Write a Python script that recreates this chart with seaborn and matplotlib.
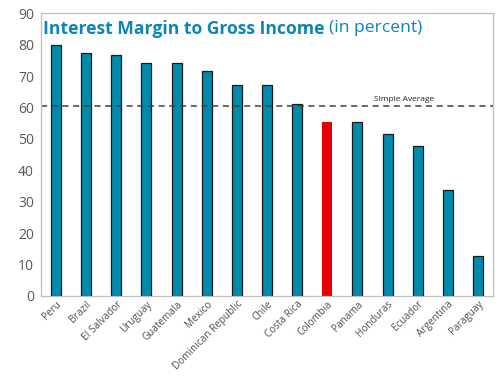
import pandas as pd
import numpy as np
import matplotlib
matplotlib.use('Agg')
import matplotlib.pyplot as plt
import seaborn as sns
from matplotlib.ticker import FixedLocator
from matplotlib.transforms import offset_copy

countries = ['Peru', 'Brazil', 'El Salvador', 'Uruguay', 'Guatemala', 'Mexico',
             'Dominican Republic', 'Chile', 'Costa Rica', 'Colombia', 'Panama',
             'Honduras', 'Ecuador', 'Argentina', 'Paraguay']
values = [80.0, 77.4, 76.7, 74.2, 74.2, 71.6, 67.2, 67.1, 61.2, 55.4, 55.3,
          51.4, 47.7, 33.8, 12.8]
simple_average = 60.4
highlight = 'Colombia'

BLUE = '#008BAD'
RED = '#E60000'

df = pd.DataFrame({'Country': countries, 'Value': values})
colors = {c: (RED if c == highlight else BLUE) for c in countries}

sns.set_style('white')
plt.rcParams['font.family'] = ['Open Sans', 'DejaVu Sans']

fig = plt.figure(figsize=(5, 3.77), dpi=100)
ax = fig.add_axes([0.082, 0.215, 0.904, 0.75])

sns.barplot(data=df, x='Country', y='Value', hue='Country', palette=colors,
            saturation=1, width=0.33, legend=False, ax=ax,
            edgecolor='#1a1a1a', linewidth=0.9)

# highlighted bar has no outline
for patch, c in zip(ax.patches, countries):
    if c == highlight:
        patch.set_linewidth(0)

ax.axhline(simple_average, color='#404040', linestyle=(0, (4, 3)), linewidth=1.1)
ax.text(11.55, simple_average + 1.0, 'Simple Average', fontsize=6,
        color='#222222', ha='center', va='bottom')

ax.set_ylim(0, 90)
ax.set_xlim(-0.5, 14.5)
ax.set_yticks(range(0, 91, 10))
ax.set_xlabel('')
ax.set_ylabel('')

for s in ['top', 'right', 'bottom', 'left']:
    ax.spines[s].set_color('#BFBFBF')
    ax.spines[s].set_linewidth(0.9)

ax.tick_params(axis='y', length=0, labelsize=10, labelcolor='#595959', pad=5)
ax.tick_params(axis='x', length=0, labelsize=7.2, labelcolor='#505050', pad=2)
ax.xaxis.set_minor_locator(FixedLocator(np.arange(0.5, 14, 1)))
ax.tick_params(axis='x', which='minor', direction='in', length=3,
               color='#BFBFBF', width=0.8)
plt.setp(ax.get_xticklabels(), rotation=45, ha='right', rotation_mode='anchor')

# title inside the plot area
t1 = ax.text(0.004, 0.975, 'Interest Margin to Gross Income', transform=ax.transAxes,
             fontsize=12.6, fontweight='bold', color='#0A87B4', va='top', ha='left')
fig.canvas.draw()
bb = t1.get_window_extent()
x_end = ax.transAxes.inverted().transform((bb.x1, bb.y1))[0]
ax.text(x_end, 0.975, '(in percent)',
        transform=offset_copy(ax.transAxes, fig=fig, x=5, y=0, units='dots'),
        fontsize=12.6, color='#0A87B4', va='top', ha='left')

fig.savefig('out.png', dpi=100)
